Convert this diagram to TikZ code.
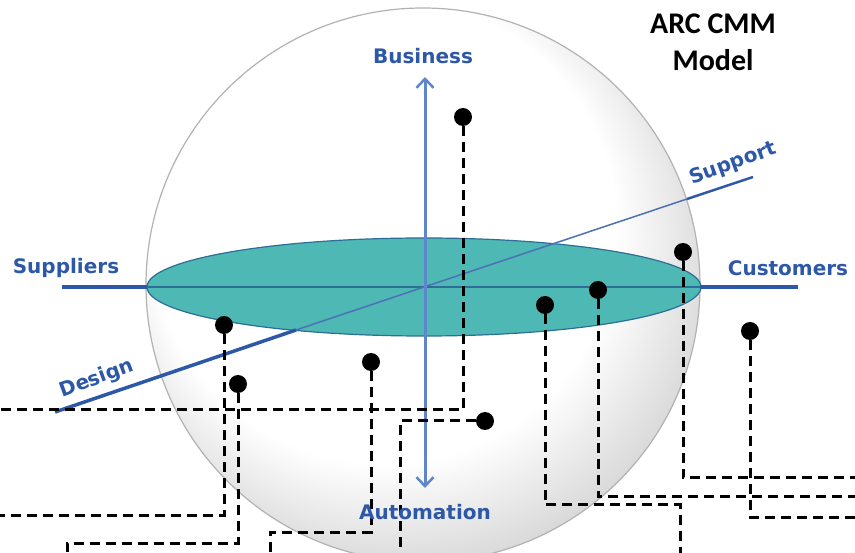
\documentclass[tikz,border=0pt]{standalone}
\usepackage{fontspec}
\setmainfont{Carlito}
\newfontfamily\axisfont{DejaVu Sans}
\usetikzlibrary{arrows.meta}
\definecolor{axisblue}{RGB}{45,88,168}
\definecolor{arrowblue}{RGB}{95,134,202}
\definecolor{disc}{RGB}{78,184,180}
\definecolor{discedge}{RGB}{45,110,150}
\pgfdeclareradialshading{spherefill}{\pgfpoint{-8bp}{11bp}}{color(0bp)=(white); color(21bp)=(white); color(31bp)=(black!20); color(38bp)=(black!42)}
\tikzset{
  axislabel/.style={font=\axisfont\bfseries\fontsize{20}{24}\selectfont, text=axisblue, inner sep=0pt},
  heading/.style={font=\bfseries\fontsize{30}{37}\selectfont, align=center, inner sep=0pt},
  point/.style={circle, fill=black, inner sep=0pt, minimum size=18pt},
  trace/.style={black, line width=3pt, dash pattern=on 10pt off 6pt},
  barb/.tip={Straight Barb[length=9pt,width=17pt,line width=2.5pt]}
}

\begin{document}
\begin{tikzpicture}[x=1pt,y=-1pt]
\useasboundingbox (0,0) rectangle (855,553);
% Sphere
\begin{scope}
\clip (0,0) rectangle (855,553);
\shade[shading=spherefill] (423,285) circle[radius=277];
\draw[black!30, line width=1.2pt] (423,285) circle[radius=277];
\end{scope}
% Axis points
\coordinate (O) at (424,287);
\coordinate (sup) at (62,287);
\coordinate (supin) at (147,287);
\coordinate (cusin) at (700,287);
\coordinate (cus) at (798,287);
\coordinate (des) at (55,412);
\coordinate (desin) at (296,330);
\coordinate (sptin) at (687,199);
\coordinate (spt) at (753,177);
\coordinate (top) at (425,77);
\coordinate (bot) at (425,488);
% Disc
\draw[fill=disc, draw=discedge, line width=1.2pt] (O) ellipse[x radius=277, y radius=49];
% Horizontal axis
\draw[axisblue, line width=3.5pt] (sup) -- (supin);
\draw[axisblue, line width=3.5pt] (cusin) -- (cus);
\draw[discedge, line width=1.5pt] (supin) -- (cusin);
% Diagonal axis
\draw[axisblue, line width=3.5pt] (des) -- (desin);
\draw[axisblue!85, line width=1.5pt] (desin) -- (O) -- (sptin);
\draw[axisblue, line width=2.5pt] (sptin) -- (spt);
% Vertical axis
\draw[arrowblue, line width=3pt, barb-barb] (bot) -- (top);
% Points with their traces
\node[point] (p1) at (463,117) {};
\node[point] (p2) at (224,325) {};
\node[point] (p3) at (238,384) {};
\node[point] (p4) at (371,362) {};
\node[point] (p5) at (485,421) {};
\node[point] (p6) at (545,305) {};
\node[point] (p7) at (598,290) {};
\node[point] (p8) at (683,252) {};
\node[point] (p9) at (750,331) {};
\coordinate (e1) at (0,410);
\coordinate (e2) at (0,515);
\coordinate (k3) at (67,543);
\coordinate (e3) at (67,553);
\coordinate (k4) at (270,532);
\coordinate (e4) at (270,553);
\coordinate (e5) at (400,553);
\coordinate (k6) at (680,505);
\coordinate (e6) at (680,553);
\coordinate (e7) at (855,497);
\coordinate (e8) at (855,478);
\coordinate (e9) at (855,517);
\draw[trace] (p1) |- (e1);
\draw[trace] (p2) |- (e2);
\draw[trace] (p3) |- (k3) -- (e3);
\draw[trace] (p4) |- (k4) -- (e4);
\draw[trace] (p5) -| (e5);
\draw[trace] (p6) |- (k6) -- (e6);
\draw[trace] (p7) |- (e7);
\draw[trace] (p8) |- (e8);
\draw[trace] (p9) |- (e9);
% Labels
\node[axislabel] (business) at (423,56) {Business};
\node[axislabel] (automation) at (425,512) {Automation};
\node[axislabel] (suppliers) at (66,268) {Suppliers};
\node[axislabel] (customers) at (788,268) {Customers};
\node[axislabel, rotate=20] (design) at (97,379) {Design};
\node[axislabel, rotate=20] (support) at (733,164) {Support};
\node[heading] (title) at (713,42) {ARC CMM\\Model};
\end{tikzpicture}
\end{document}
